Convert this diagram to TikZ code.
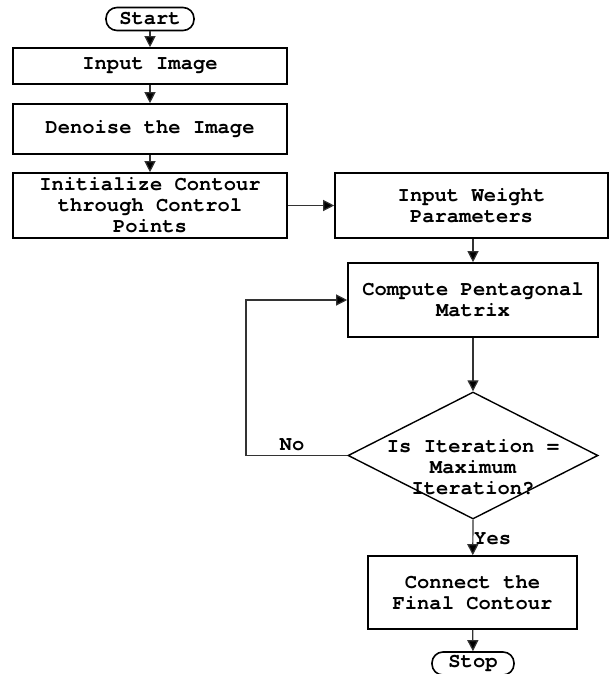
\documentclass[tikz,border=0pt]{standalone}
\usepackage{fontspec}
\setmonofont{TeX Gyre Cursor}
\usetikzlibrary{arrows.meta,shapes.geometric}
\tikzset{
  txt/.style={font=\ttfamily\bfseries\fontsize{20.5}{21}\selectfont, align=center, inner sep=0pt},
  procbox/.style={txt, draw=black, line width=1.6pt, rectangle},
  termbox/.style={procbox, rounded corners=11pt},
  decbox/.style={draw=black, line width=1.4pt, diamond, aspect=1.97, inner sep=0pt},
  conn/.style={draw=black!80, line width=1.2pt, -{Triangle[length=11pt,width=11pt,fill=black]}},
  plainconn/.style={draw=black!80, line width=1.2pt},
  lbl/.style={font=\ttfamily\bfseries\fontsize{20.5}{21}\selectfont, inner sep=0pt}
}
\begin{document}
\begin{tikzpicture}[x=1pt,y=-1pt]
\useasboundingbox (0,0) rectangle (609,674);
\node[termbox, minimum width=88pt, minimum height=23pt] (start) at (150,19) {Start};
\node[procbox, minimum width=274pt, minimum height=36pt] (input) at (150,66) {Input Image};
\node[procbox, minimum width=274pt, minimum height=50pt] (denoise) at (150,129) {Denoise the Image};
\node[procbox, minimum width=274pt, minimum height=65pt] (init) at (150,205.5) {Initialize Contour\\through Control\\Points};
\node[procbox, minimum width=273pt, minimum height=65pt] (weight) at (471.5,205.5) {Input Weight\\Parameters};
\node[procbox, minimum width=250pt, minimum height=74pt] (compute) at (473,300) {Compute Pentagonal\\Matrix};
\node[decbox, minimum width=250pt, minimum height=127pt] (dec) at (473,455.5) {};
\node[txt] (dectext) at (473,467) {Is Iteration =\\Maximum\\Iteration?};
\node[procbox, minimum width=209pt, minimum height=73pt] (connect) at (472.5,592.5) {Connect the\\Final Contour};
\node[termbox, minimum width=82pt, minimum height=23pt] (stop) at (473,663.5) {Stop};
\coordinate (loopc) at (246,455.5);
\node[lbl] (nolbl) at (292,445) {No};
\node[lbl, anchor=west] (yeslbl) at (474,539) {Yes};

\draw[conn] (start) -- (input);
\draw[conn] (input) -- (denoise);
\draw[conn] (denoise) -- (init);
\draw[conn] (weight.west -| init.east) -- (weight.west);
\draw[conn] (weight.south -| compute.north) -- (compute.north);
\draw[conn] (compute) -- (dec.north);
\draw[conn] (dec.south) -- (connect);
\draw[conn] (connect) -- (stop);
\draw[plainconn] (dec.west) -- (loopc);
\draw[conn] (loopc) |- (compute.west);
\end{tikzpicture}
\end{document}
